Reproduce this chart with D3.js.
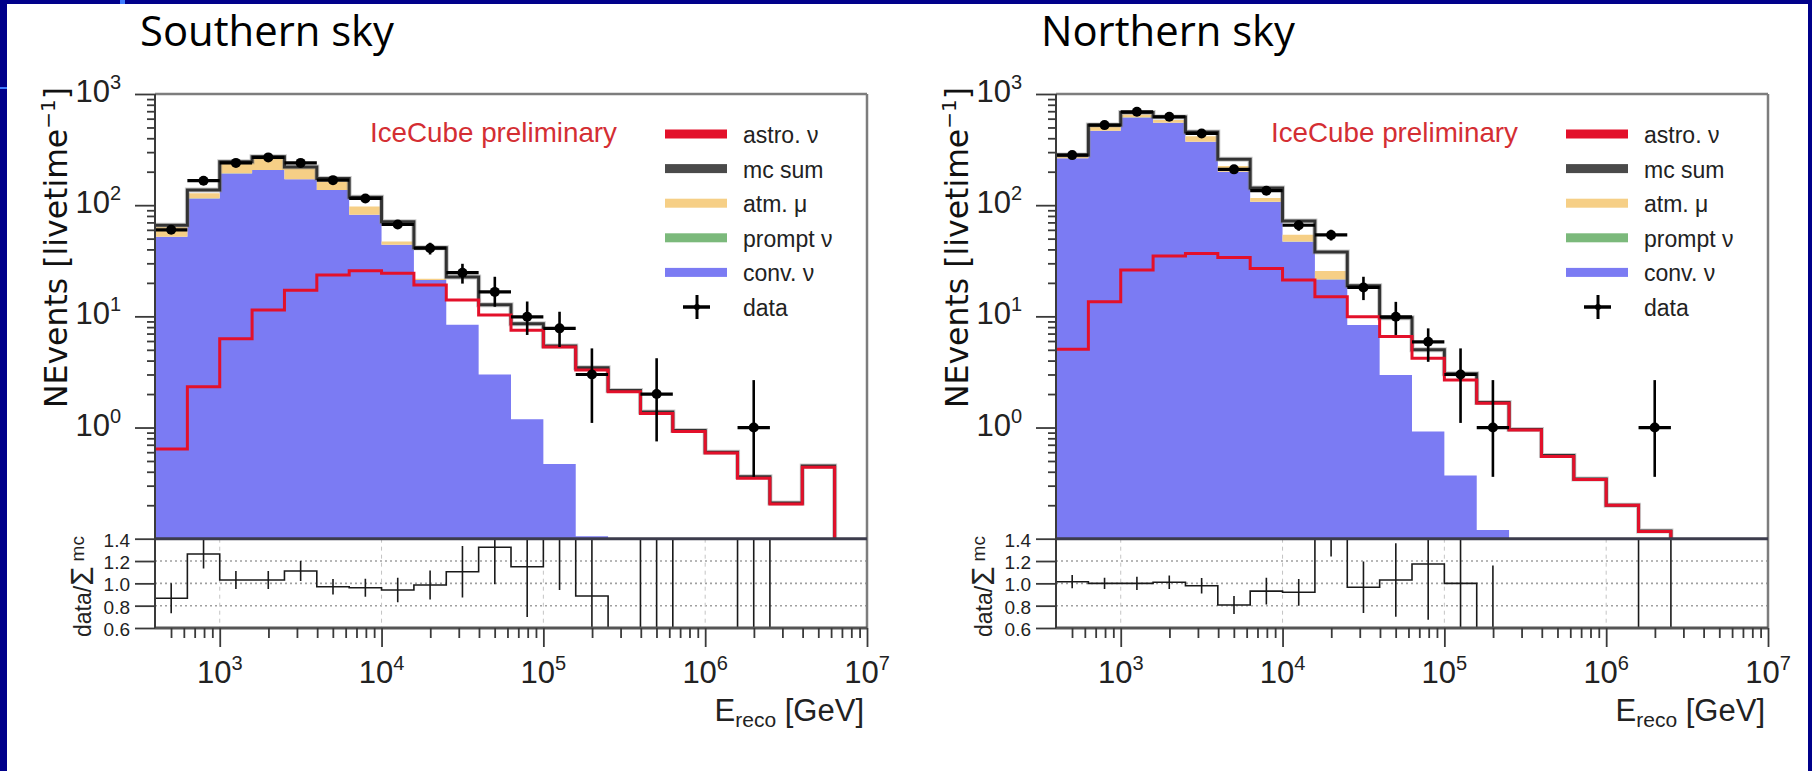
<!DOCTYPE html>
<html>
<head>
<meta charset="utf-8">
<script src="https://cdn.jsdelivr.net/npm/d3@7"></script>
<style>
  html, body { margin: 0; padding: 0; background: #fff; }
  svg { display: block; }
</style>
</head>
<body>
<svg id="chart" width="1812" height="771"></svg>
<script>
// ---- binning: 22 bins of 0.2 decades in reconstructed energy (GeV) ----
const binEdges = [398.1, 631.0, 1000, 1584.9, 2511.9, 3981.1, 6309.6, 10000, 15849, 25119,
                  39811, 63096, 100000, 158489, 251189, 398107, 630957, 1000000, 1584893,
                  2511886, 3981072, 6309573, 10000000];
const yTickExponents = [0, 1, 2, 3];
const xTickExponents = [3, 4, 5, 6, 7];
const ratioTicks = [0.6, 0.8, 1.0, 1.2, 1.4];
const legendLabels = ["astro. ν", "mc sum", "atm. μ", "prompt ν", "conv. ν", "data"];

// ---- Southern sky ----
const southConv   = [52, 115, 193, 207, 171, 137, 82, 44, 21.2, 8.4, 3.0, 1.19, 0.47, 0.105, 0, 0, 0, 0, 0, 0, 0, 0];
const southPrompt = [0.1, 0.2, 0.3, 0.3, 0.3, 0.2, 0.15, 0.08, 0.03, 0, 0, 0, 0, 0, 0, 0, 0, 0, 0, 0, 0, 0];
const southAtmMu  = [12, 13, 41, 53, 43, 25, 15, 3, 0.6, 0, 0, 0, 0, 0, 0, 0, 0, 0, 0, 0, 0, 0];
const southAstro  = [0.64, 2.33, 6.3, 11.4, 17.2, 23.5, 25.7, 24.4, 19.1, 14.0, 10.3, 7.5, 5.3, 3.3, 2.1, 1.34, 0.92, 0.59, 0.35, 0.205, 0.44, 0];
const southMcSum  = [66, 137, 246, 272, 221, 174, 118, 71, 41.5, 22.6, 12.7, 8.6, 5.4, 3.45, 2.15, 1.38, 0.94, 0.6, 0.36, 0.21, 0.45, 0];
const southData   = [60, 166, 240, 269, 240, 168, 115, 67, 41, 24.7, 16.6, 9.9, 7.8, 3.0, 0, 2.0, 0, 0, 1.0, 0, 0, 0];
const southErrUp  = [5, 13, 15, 16, 15, 12, 9, 6, 5, 5, 6.1, 3.7, 3.2, 2.15, 0, 2.2, 0, 0, 1.67, 0, 0, 0];
const southErrLo  = [5, 13, 15, 16, 15, 12, 9, 6, 5, 5, 4.4, 3.1, 2.5, 1.9, 0, 1.25, 0, 0, 0.64, 0, 0, 0];
const southRatio    = [0.866, 1.263, 1.03, 1.03, 1.11, 0.97, 0.961, 0.94, 0.985, 1.104, 1.323, 1.149, 1.44, 0.887, 0, 1.45, 0, 0, 2.8, 0, 0, 0];
const southRatioErr = [0.134, 0.13, 0.08, 0.08, 0.09, 0.07, 0.08, 0.11, 0.13, 0.23, 0.33, 0.45, 0.5, 0.9, 0, 1.2, 0, 0, 2.5, 0, 0, 0];

// ---- Northern sky ----
const northConv   = [264, 467, 616, 551, 372, 200, 107, 47, 21.5, 8.35, 2.97, 0.92, 0.37, 0.12, 0, 0, 0, 0, 0, 0, 0, 0];
const northPrompt = [0.3, 0.5, 0.6, 0.6, 0.5, 0.3, 0.2, 0.1, 0.04, 0, 0, 0, 0, 0, 0, 0, 0, 0, 0, 0, 0, 0];
const northAtmMu  = [14, 42, 36, 33, 45, 25, 9, 7, 4, 0, 0, 0, 0, 0, 0, 0, 0, 0, 0, 0, 0, 0];
const northAstro  = [5.05, 13.5, 26.1, 34.9, 36.8, 33.9, 27, 21.2, 15, 9.9, 6.6, 4.2, 2.67, 1.65, 0.95, 0.55, 0.34, 0.2, 0.116, 0, 0, 0];
const northMcSum  = [283, 525, 680, 620, 455, 259, 143, 72, 38, 18.8, 9.7, 5.0, 3.05, 1.68, 0.96, 0.56, 0.345, 0.2, 0.117, 0, 0, 0];
const northData   = [282, 525, 692, 624, 442, 210, 135, 66, 54, 18.2, 9.9, 5.9, 3.0, 1.0, 0, 0, 0, 0, 1.0, 0, 0, 0];
const northErrUp  = [14, 22, 28, 26, 20, 13, 10, 7, 6, 4.5, 3.6, 1.9, 2.15, 1.67, 0, 0, 0, 0, 1.67, 0, 0, 0];
const northErrLo  = [14, 22, 28, 26, 20, 13, 10, 7, 6, 4.2, 3.1, 2.0, 1.9, 0.64, 0, 0, 0, 0, 0.64, 0, 0, 0];
const northRatio    = [1.015, 1.0, 1.0, 1.01, 0.979, 0.806, 0.93, 0.92, 1.44, 0.965, 1.03, 1.173, 1.0, 0.6, 0, 0, 0, 0, 8.5, 0, 0, 0];
const northRatioErr = [0.06, 0.05, 0.06, 0.06, 0.07, 0.08, 0.12, 0.12, 0.2, 0.23, 0.33, 0.5, 0.9, 0.56, 0, 0, 0, 0, 7, 0, 0, 0];

// ---- styling ----
const COL = {
  astro: "#e3102a", mc: "#333333", mcLegend: "#4a4a4a", atm: "#f6cf86",
  prompt: "#7bb97b", conv: "#7b7bf3", frame: "#7d7d7d", axis: "#3a3a3a",
  brand: "#d42e33", page: "#00008a", accent: "#3f7cff"
};
const TICK_FONT = "'Liberation Sans', Arial, sans-serif";

const W = 1812, H = 771;
const svg = d3.select("#chart");
const defs = svg.append("defs");

// slide background: navy border and white content area
svg.append("rect").attr("width", W).attr("height", H).attr("fill", COL.page);
svg.append("rect").attr("x", 7).attr("y", 4).attr("width", W - 4 - 7).attr("height", H - 4).attr("fill", "#fff");
svg.append("rect").attr("x", 120).attr("y", 0).attr("width", 5).attr("height", 4).attr("fill", COL.accent);
svg.append("rect").attr("x", 0).attr("y", 87).attr("width", 7).attr("height", 2).attr("fill", COL.accent);

function stepPoints(vals) {
  return vals.flatMap((v, i) => [[binEdges[i], v], [binEdges[i + 1], v]]);
}

function drawPanel(off, title, s, id) {
  const X0 = 155 + off, X1 = 867 + off;
  const YT = 94, YM = 538.7, YB = 628;
  const g = svg.append("g");

  const x = d3.scaleLog().domain([binEdges[0], binEdges[binEdges.length - 1]]).range([X0, X1]);
  const y = d3.scaleLog().domain([0.1, 1000]).range([YM, YT]);
  const r = d3.scaleLinear().domain([0.6, 1.4]).range([YB, YM]);
  const yc = v => y(Math.max(v, 0.03));
  const centers = binEdges.slice(0, -1).map((e, i) => Math.sqrt(e * binEdges[i + 1]));

  defs.append("clipPath").attr("id", "main-" + id)
    .append("rect").attr("x", X0).attr("y", YT).attr("width", X1 - X0).attr("height", YM - YT);
  defs.append("clipPath").attr("id", "ratio-" + id)
    .append("rect").attr("x", X0).attr("y", YM).attr("width", X1 - X0).attr("height", YB - YM);

  // panel title
  g.append("text").attr("x", 140 + off).attr("y", 46)
    .attr("font-family", "'Open Sans', 'Noto Sans', sans-serif").attr("font-size", 42)
    .attr("textLength", 254).attr("lengthAdjust", "spacingAndGlyphs")
    .attr("fill", "#000").text(title);

  // ---------- main panel ----------
  const main = g.append("g").attr("clip-path", `url(#main-${id})`);

  const rows = s.conv.map((c, i) => ({ conv: c, prompt: s.prompt[i], atm: s.atm[i] }));
  const layers = d3.stack().keys(["conv", "prompt", "atm"])(rows);
  const layerColor = { conv: COL.conv, prompt: COL.prompt, atm: COL.atm };
  const area = d3.area().x(p => x(p[0])).y0(p => yc(p[1])).y1(p => yc(p[2]));
  layers.forEach(layer => {
    const pts = layer.flatMap((seg, i) => [[binEdges[i], seg[0], seg[1]], [binEdges[i + 1], seg[0], seg[1]]]);
    main.append("path").attr("d", area(pts)).attr("fill", layerColor[layer.key]);
  });

  const line = d3.line().x(p => x(p[0])).y(p => yc(p[1]));
  main.append("path").attr("d", line(stepPoints(s.mc)))
    .attr("fill", "none").attr("stroke", "#8a8a8a").attr("stroke-width", 5).attr("opacity", 0.45);
  main.append("path").attr("d", line(stepPoints(s.mc)))
    .attr("fill", "none").attr("stroke", COL.mc).attr("stroke-width", 3);
  main.append("path").attr("d", line(stepPoints(s.astro)))
    .attr("fill", "none").attr("stroke", COL.astro).attr("stroke-width", 3);

  // data points with bin-width bars and error bars
  s.data.forEach((v, i) => {
    if (v <= 0) return;
    const cx = x(centers[i]), cy = y(v);
    main.append("line").attr("x1", x(binEdges[i])).attr("x2", x(binEdges[i + 1]))
      .attr("y1", cy).attr("y2", cy).attr("stroke", "#000").attr("stroke-width", 3.2);
    main.append("line").attr("x1", cx).attr("x2", cx)
      .attr("y1", yc(v + s.errUp[i])).attr("y2", yc(v - s.errLo[i]))
      .attr("stroke", "#000").attr("stroke-width", 2.6);
    main.append("circle").attr("cx", cx).attr("cy", cy).attr("r", 5).attr("fill", "#000");
  });

  // IceCube label
  g.append("text").attr("x", 370 + off).attr("y", 142)
    .attr("font-family", TICK_FONT).attr("font-size", 28).attr("fill", COL.brand)
    .attr("textLength", 247).attr("lengthAdjust", "spacingAndGlyphs")
    .text("IceCube preliminary");

  // legend
  const LX = 665 + off, LY = 134, LDY = 34.6;
  const legendSwatch = [COL.astro, COL.mcLegend, COL.atm, COL.prompt, COL.conv];
  legendLabels.forEach((lab, k) => {
    const cy = LY + k * LDY;
    if (k < 5) {
      g.append("rect").attr("x", LX).attr("y", cy - 4.5).attr("width", 62).attr("height", 9)
        .attr("fill", legendSwatch[k]);
    } else {
      g.append("line").attr("x1", LX + 18).attr("x2", LX + 45).attr("y1", cy).attr("y2", cy)
        .attr("stroke", "#000").attr("stroke-width", 3.5);
      g.append("line").attr("x1", LX + 32).attr("x2", LX + 32).attr("y1", cy - 12).attr("y2", cy + 12)
        .attr("stroke", "#000").attr("stroke-width", 3);
      g.append("circle").attr("cx", LX + 32).attr("cy", cy).attr("r", 3).attr("fill", "#000");
    }
    g.append("text").attr("x", LX + 78).attr("y", cy + 9)
      .attr("font-family", TICK_FONT).attr("font-size", 23).attr("fill", "#222").text(lab);
  });

  // ---------- ratio panel ----------
  const rg = g.append("g");
  [0.8, 1.0, 1.2].forEach(v => {
    rg.append("line").attr("x1", X0).attr("x2", X1).attr("y1", r(v)).attr("y2", r(v))
      .attr("stroke", "#a0a0a0").attr("stroke-width", 1.6).attr("stroke-dasharray", "2,3");
  });
  [1e3, 1e4, 1e5, 1e6].forEach(v => {
    rg.append("line").attr("x1", x(v)).attr("x2", x(v)).attr("y1", YM).attr("y2", YB)
      .attr("stroke", "#c4c4c4").attr("stroke-width", 1).attr("stroke-dasharray", "4,4");
  });
  const rclip = rg.append("g").attr("clip-path", `url(#ratio-${id})`);
  const rline = d3.line().x(p => x(p[0])).y(p => r(p[1]));
  rclip.append("path").attr("d", rline(stepPoints(s.ratio)))
    .attr("fill", "none").attr("stroke", "#1a1a1a").attr("stroke-width", 1.6);
  s.ratio.forEach((v, i) => {
    const e = s.ratioErr[i];
    if (e <= 0) return;
    rclip.append("line").attr("x1", x(centers[i])).attr("x2", x(centers[i]))
      .attr("y1", r(v + e)).attr("y2", r(v - e)).attr("stroke", "#1a1a1a").attr("stroke-width", 1.6);
  });

  // ---------- frame ----------
  g.append("line").attr("x1", X0).attr("x2", X1).attr("y1", YT).attr("y2", YT)
    .attr("stroke", COL.frame).attr("stroke-width", 2.5);
  g.append("line").attr("x1", X1).attr("x2", X1).attr("y1", YT).attr("y2", YB)
    .attr("stroke", COL.frame).attr("stroke-width", 2.5);
  g.append("line").attr("x1", X0).attr("x2", X1).attr("y1", YM).attr("y2", YM)
    .attr("stroke", "#3c3c4c").attr("stroke-width", 3);
  g.append("line").attr("x1", X0).attr("x2", X1).attr("y1", YB).attr("y2", YB)
    .attr("stroke", "#555").attr("stroke-width", 3);
  g.append("line").attr("x1", X0).attr("x2", X0).attr("y1", YT).attr("y2", YB)
    .attr("stroke", COL.axis).attr("stroke-width", 2);

  // ---------- axes ----------
  const yMinor = [], yMajor = [];
  for (let k = -1; k <= 2; k++) for (let m = 1; m <= 9; m++) {
    const v = m * Math.pow(10, k);
    if (m === 1 && k >= 0) yMajor.push(v); else if (!(m === 1 && k === -1)) yMinor.push(v);
  }
  yMajor.push(1000);
  const styleAxis = sel => {
    sel.select(".domain").remove();
    sel.selectAll("line").attr("stroke", COL.axis).attr("stroke-width", 1.8);
  };
  g.append("g").attr("transform", `translate(${X0},0)`)
    .call(d3.axisLeft(y).tickValues(yMinor).tickSize(8).tickFormat("")).call(styleAxis);
  g.append("g").attr("transform", `translate(${X0},0)`)
    .call(d3.axisLeft(y).tickValues(yMajor).tickSize(20).tickFormat("")).call(styleAxis);

  yTickExponents.forEach(p => {
    const t = g.append("text").attr("x", X0 - 34).attr("y", y(Math.pow(10, p)) + 8)
      .attr("text-anchor", "end").attr("font-family", TICK_FONT).attr("font-size", 31).attr("fill", "#222");
    t.append("tspan").text("10");
    t.append("tspan").attr("dy", -13).attr("font-size", 20).text(p);
  });

  g.append("g").attr("transform", `translate(${X0},0)`)
    .call(d3.axisLeft(r).tickValues(ratioTicks).tickSize(20).tickFormat("")).call(styleAxis);
  ratioTicks.forEach(v => {
    g.append("text").attr("x", X0 - 25).attr("y", r(v) + 8).attr("text-anchor", "end")
      .attr("font-family", TICK_FONT).attr("font-size", 19).attr("fill", "#222").text(v.toFixed(1));
  });

  const xMinor = [], xMajor = [];
  for (let k = 2; k <= 6; k++) for (let m = 1; m <= 9; m++) {
    const v = m * Math.pow(10, k);
    if (v < binEdges[0] * 1.01 || v > 1e7) continue;
    if (m === 1) xMajor.push(v); else xMinor.push(v);
  }
  xMajor.push(1e7);
  g.append("g").attr("transform", `translate(0,${YB})`)
    .call(d3.axisBottom(x).tickValues(xMinor).tickSize(10).tickFormat("")).call(styleAxis);
  g.append("g").attr("transform", `translate(0,${YB})`)
    .call(d3.axisBottom(x).tickValues(xMajor).tickSize(19).tickFormat("")).call(styleAxis);

  xTickExponents.forEach(p => {
    const t = g.append("text").attr("x", x(Math.pow(10, p))).attr("y", 683)
      .attr("text-anchor", "middle").attr("font-family", TICK_FONT).attr("font-size", 31).attr("fill", "#222");
    t.append("tspan").text("10");
    t.append("tspan").attr("dy", -13).attr("font-size", 20).text(p);
  });

  // axis titles
  const xt = g.append("text").attr("x", X1 - 3).attr("y", 721).attr("text-anchor", "end")
    .attr("font-family", TICK_FONT).attr("font-size", 31).attr("fill", "#222");
  xt.append("tspan").text("E");
  xt.append("tspan").attr("dy", 6).attr("font-size", 21).text("reco");
  xt.append("tspan").attr("dy", -6).text(" [GeV]");

  const yt = g.append("text").attr("transform", `translate(${67 + off},408) rotate(-90)`)
    .attr("font-family", "'DejaVu Sans', sans-serif").attr("font-size", 31.5).attr("fill", "#111");
  yt.append("tspan").text("NEvents [livetime");
  yt.append("tspan").attr("dy", -12).attr("font-size", 20).text("−1");
  yt.append("tspan").attr("dy", 12).text("]");

  const rt = g.append("text").attr("transform", `translate(${91 + off},637) rotate(-90)`)
    .attr("font-family", TICK_FONT).attr("font-size", 23).attr("fill", "#222");
  rt.append("tspan").text("data/");
  rt.append("tspan").attr("font-size", 31).attr("dy", 2).text("Σ");
  rt.append("tspan").attr("font-size", 19).attr("dy", -9).text(" mc");
}

drawPanel(0, "Southern sky", {
  conv: southConv, prompt: southPrompt, atm: southAtmMu, astro: southAstro, mc: southMcSum,
  data: southData, errUp: southErrUp, errLo: southErrLo, ratio: southRatio, ratioErr: southRatioErr
}, "south");

drawPanel(901, "Northern sky", {
  conv: northConv, prompt: northPrompt, atm: northAtmMu, astro: northAstro, mc: northMcSum,
  data: northData, errUp: northErrUp, errLo: northErrLo, ratio: northRatio, ratioErr: northRatioErr
}, "north");
</script>
</body>
</html>
